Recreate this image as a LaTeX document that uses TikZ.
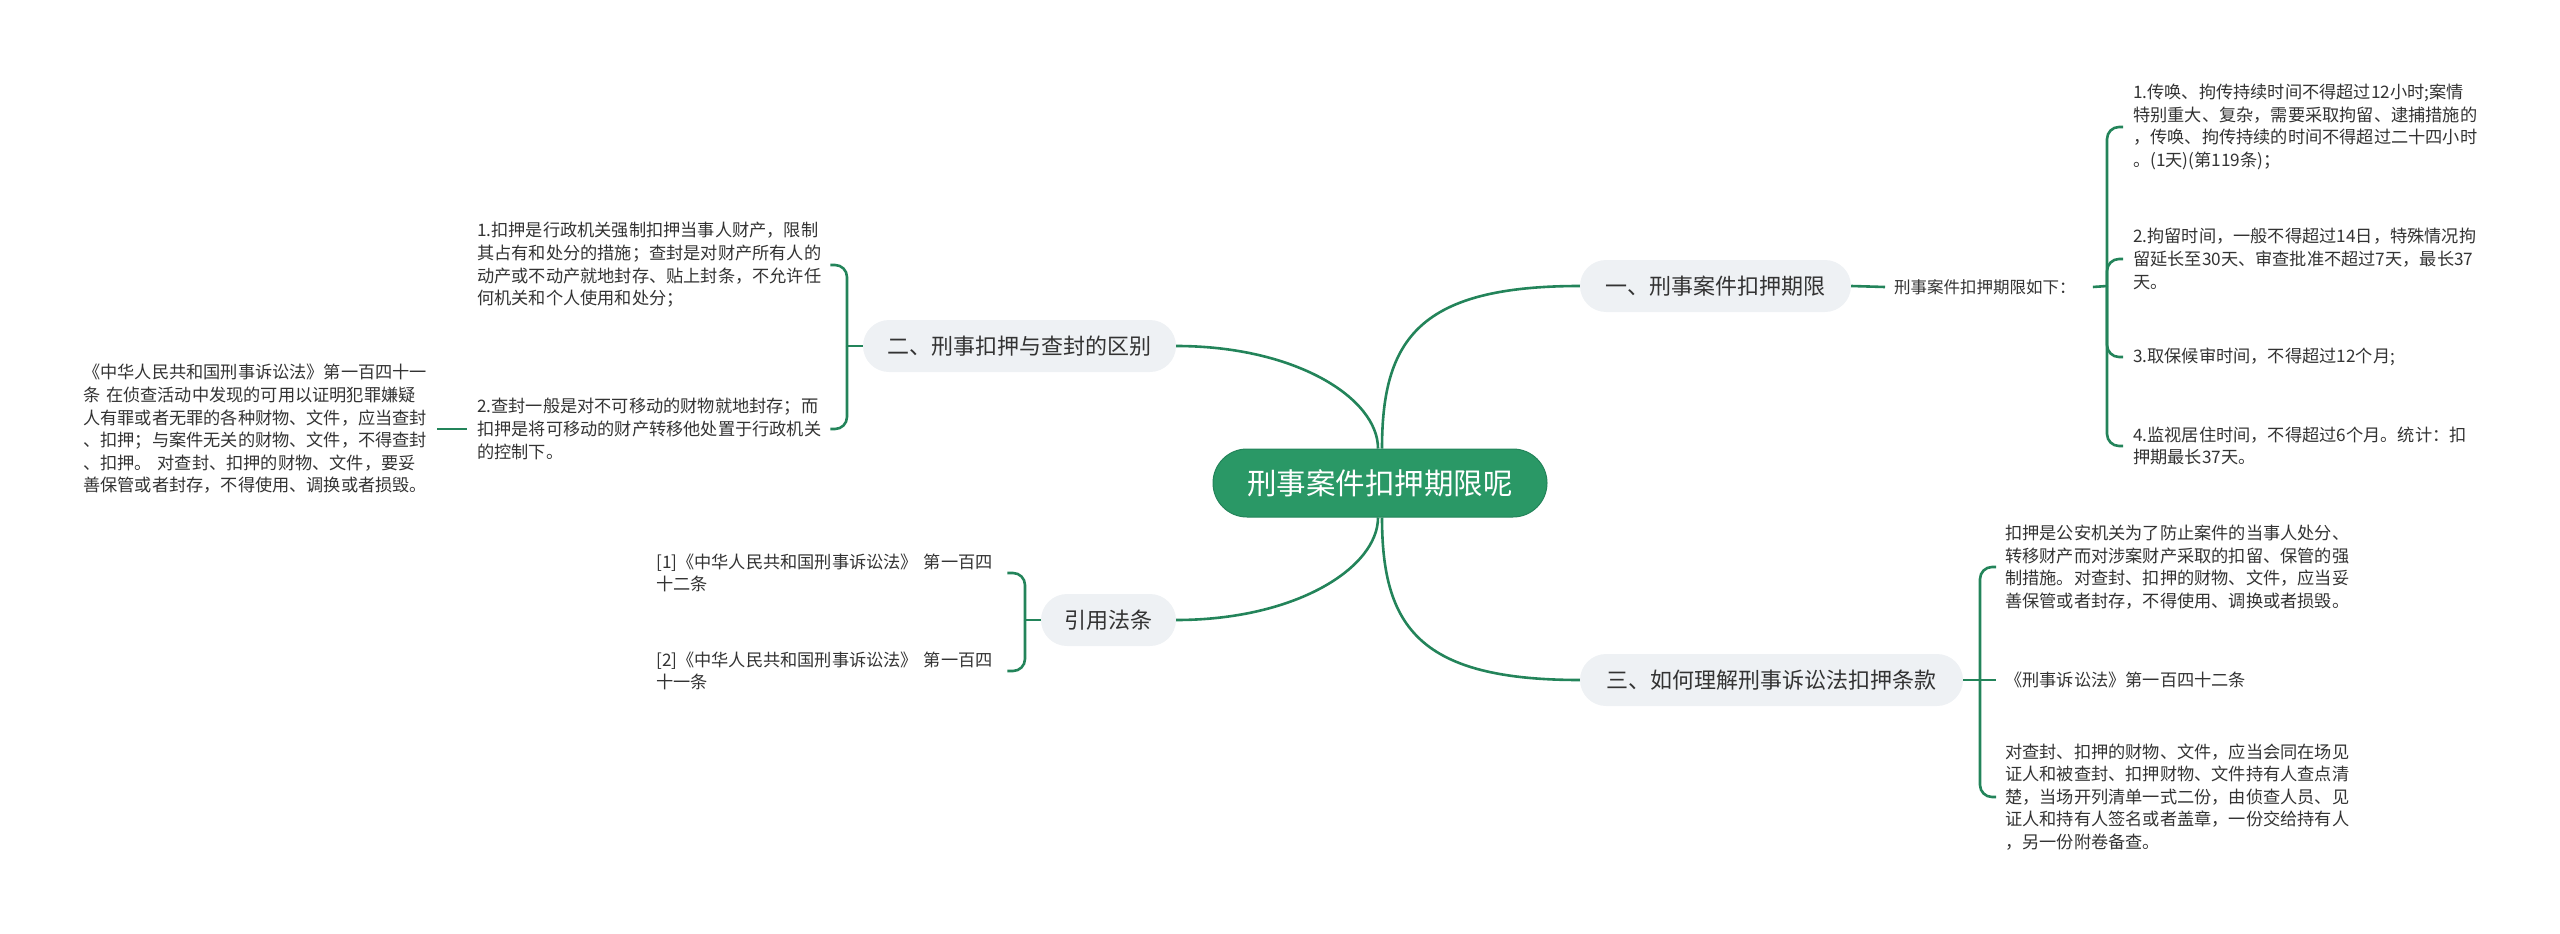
\documentclass[tikz,border=0pt]{standalone}
\usepackage{fontspec}
\setmainfont{Noto Sans CJK SC}
\definecolor{cgreen}{HTML}{2A9866}
\definecolor{lgreen}{HTML}{23845A}
\definecolor{bfill}{HTML}{EEF1F4}
\definecolor{tgray}{HTML}{333333}
\begin{document}
\begin{tikzpicture}[x=1pt,y=-1pt,
  conn/.style={draw=lgreen, line width=2.6pt},
  root/.style={fill=cgreen, draw=lgreen, line width=1pt, rounded corners=34pt,
    minimum width=334pt, minimum height=68pt, inner sep=0pt, text=white,
    font=\fontsize{29.5}{32}\selectfont},
  topic/.style={fill=bfill, rounded corners=26pt, minimum height=52pt, inner sep=0pt,
    text=tgray, font=\fontsize{22}{26}\selectfont},
  leaf/.style={inner sep=0pt, text=tgray, align=left,
    font=\fontsize{17.2}{22.6}\selectfont},
  lblstyle/.style={inner sep=0pt, text=tgray, font=\fontsize{16.5}{20}\selectfont}
]
\useasboundingbox (0,0) rectangle (2560,934);

% root and topics
\node[root] (root) at (1380,483) {刑事案件扣押期限呢};
\node[topic, minimum width=271pt] (b1) at (1715.5,286) {一、刑事案件扣押期限};
\node[topic, minimum width=313pt] (b2) at (1019.5,346) {二、刑事扣押与查封的区别};
\node[topic, minimum width=135pt] (b3) at (1108.5,620) {引用法条};
\node[topic, minimum width=383pt] (b4) at (1771.5,680) {三、如何理解刑事诉讼法扣押条款};

\draw[conn] ([xshift=2pt]root.north) .. controls +(0,-110) and +(-160,0) .. (b1.west);
\draw[conn] ([xshift=-2pt]root.north) .. controls +(0,-50) and +(120,0) .. (b2.east);
\draw[conn] ([xshift=-2pt]root.south) .. controls +(0,50) and +(120,0) .. (b3.east);
\draw[conn] ([xshift=2pt]root.south) .. controls +(0,110) and +(-160,0) .. (b4.west);

% branch 1
\node[lblstyle, anchor=west] (lb1) at (1894,287) {刑事案件扣押期限如下：};
\coordinate (j1) at (2107,286);
\node[leaf, anchor=west] (l11) at (2133,127) {1.传唤、拘传持续时间不得超过12小时;案情\\特别重大、复杂，需要采取拘留、逮捕措施的\\，传唤、拘传持续的时间不得超过二十四小时\\。(1天)(第119条)；};
\node[leaf, anchor=west] (l12) at (2133,259) {2.拘留时间，一般不得超过14日，特殊情况拘\\留延长至30天、审查批准不超过7天，最长37\\天。};
\node[leaf, anchor=west] (l13) at (2133,357) {3.取保候审时间，不得超过12个月;};
\node[leaf, anchor=west] (l14) at (2133,446) {4.监视居住时间，不得超过6个月。统计：扣\\押期最长37天。};
\draw[conn] (b1.east) -- ([xshift=-9pt]lb1.west);
\draw[conn] ([xshift=17pt]lb1.east) -- (j1);
\draw[conn, rounded corners=12pt] (j1) |- ([xshift=-10pt]l11.west);
\draw[conn, rounded corners=12pt] (j1) |- ([xshift=-10pt]l12.west);
\draw[conn, rounded corners=12pt] (j1) |- ([xshift=-10pt]l13.west);
\draw[conn, rounded corners=12pt] (j1) |- ([xshift=-10pt]l14.west);

% branch 2
\coordinate (j2) at (847,346);
\node[leaf, anchor=west, text width=343pt] (l21) at (477,265) {1.扣押是行政机关强制扣押当事人财产，限制\\其占有和处分的措施；查封是对财产所有人的\\动产或不动产就地封存、贴上封条，不允许任\\何机关和个人使用和处分；};
\node[leaf, anchor=west, text width=343pt] (l22) at (477,429) {2.查封一般是对不可移动的财物就地封存；而\\扣押是将可移动的财产转移他处置于行政机关\\的控制下。};
\node[leaf, anchor=west, text width=344pt] (l0) at (83,429) {《中华人民共和国刑事诉讼法》第一百四十一\\条 在侦查活动中发现的可用以证明犯罪嫌疑\\人有罪或者无罪的各种财物、文件，应当查封\\、扣押；与案件无关的财物、文件，不得查封\\、扣押。 对查封、扣押的财物、文件，要妥\\善保管或者封存，不得使用、调换或者损毁。};
\draw[conn] (b2.west) -- (j2);
\draw[conn, rounded corners=12pt] (j2) |- ([xshift=10pt]l21.east);
\draw[conn, rounded corners=12pt] (j2) |- ([xshift=10pt]l22.east);
\draw[conn] ([xshift=10pt]l0.east) -- ([xshift=-10pt]l22.west);

% branch 3 (引用法条)
\coordinate (j3) at (1025,620);
\node[leaf, anchor=west, text width=341pt] (l31) at (656,573) {[1]《中华人民共和国刑事诉讼法》 第一百四\\十二条};
\node[leaf, anchor=west, text width=341pt] (l32) at (656,671) {[2]《中华人民共和国刑事诉讼法》 第一百四\\十一条};
\draw[conn] (b3.west) -- (j3);
\draw[conn, rounded corners=12pt] (j3) |- ([xshift=10pt]l31.east);
\draw[conn, rounded corners=12pt] (j3) |- ([xshift=10pt]l32.east);

% branch 4
\coordinate (j4) at (1980,680);
\node[leaf, anchor=west] (l41) at (2005,567) {扣押是公安机关为了防止案件的当事人处分、\\转移财产而对涉案财产采取的扣留、保管的强\\制措施。对查封、扣押的财物、文件，应当妥\\善保管或者封存，不得使用、调换或者损毁。};
\node[leaf, anchor=west] (l42) at (2005,680) {《刑事诉讼法》第一百四十二条};
\node[leaf, anchor=west] (l43) at (2005,797) {对查封、扣押的财物、文件，应当会同在场见\\证人和被查封、扣押财物、文件持有人查点清\\楚，当场开列清单一式二份，由侦查人员、见\\证人和持有人签名或者盖章，一份交给持有人\\，另一份附卷备查。};
\draw[conn] (b4.east) -- (j4);
\draw[conn, rounded corners=12pt] (j4) |- ([xshift=-9pt]l41.west);
\draw[conn] (j4) -- ([xshift=-9pt]l42.west);
\draw[conn, rounded corners=12pt] (j4) |- ([xshift=-9pt]l43.west);
\end{tikzpicture}
\end{document}
